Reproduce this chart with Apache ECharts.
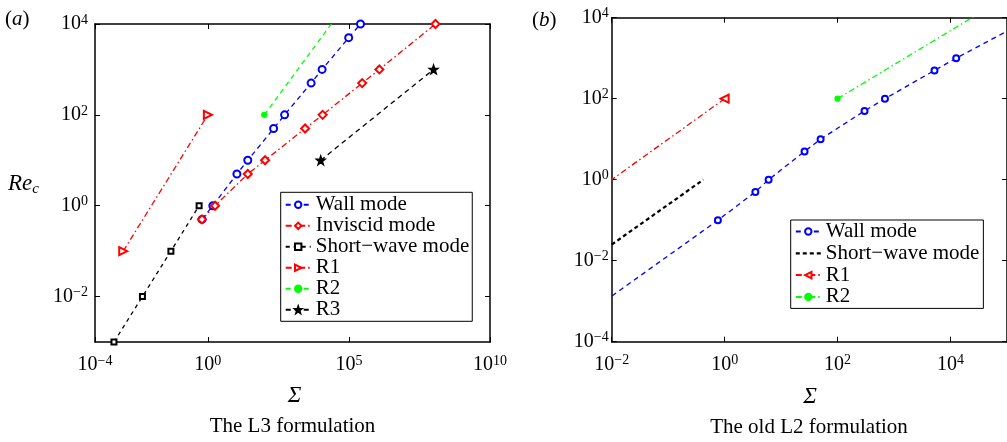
<!DOCTYPE html>
<html>
<head>
<meta charset="utf-8">
<script src="https://cdn.jsdelivr.net/npm/echarts@6/dist/echarts.min.js"></script>
<style>
  html, body { margin: 0; padding: 0; background: #fff; }
  #chart { width: 1007px; height: 442px; }
</style>
</head>
<body>
<div id="chart"></div>
<script>
// ---- Panel (a): the L3 formulation, [Sigma, Re_c] pairs ----
const wallL3 = [[0.62, 0.5], [1.5, 1], [10.7, 5], [26, 10], [214, 50], [525, 100], [4570, 500], [1.12e4, 1000], [9.8e4, 5000], [2.57e5, 1e4]];
const inviscidL3 = [[0.62, 0.5], [1.8, 1], [26, 5], [107, 10], [2.8e3, 50], [1.17e4, 100], [2.95e5, 500], [1.2e6, 1000], [1.17e8, 1e4]];
const shortWaveL3 = [[4.7e-4, 1e-3], [4.8e-3, 0.01], [0.049, 0.1], [0.49, 1]];
const r1 = [[1e-3, 0.1], [1, 100]];
const r2 = [[100, 100], [3.7e5, 1e5]];
const r3 = [[1e4, 10], [1e8, 1000]];

// ---- Panel (b): the old L2 formulation ----
const wallL2 = [[0.0075, 0.001], [0.76, 0.1], [3.5, 0.5], [6, 1], [26, 5], [50, 10], [300, 50], [690, 100], [5200, 500], [1.26e4, 1000], [1.1e5, 5000]];
const shortWaveL2 = [[0.01, 0.025], [0.42, 1]];

// ---- axis ranges and tick values ----
const rangeAX = [1e-4, 1e10];
const rangeAY = [1e-3, 1e4];
const rangeBX = [1e-2, 1e5];
const rangeBY = [1e-4, 1e4];
const ticksAX = [1e-4, 1, 1e5, 1e10];
const ticksAY = [1e-2, 1, 1e2, 1e4];
const ticksBX = [1e-2, 1, 1e2, 1e4];
const ticksBY = [1e-4, 1e-2, 1, 1e2, 1e4];

const FONT = "'Liberation Serif', 'Times New Roman', serif";
const BLUE = '#0000ff', RED = '#ff0000', GREEN = '#00ff00', BLACK = '#000000';
const DASH = [5, 4];
const DASHDOT = [6, 3, 1.5, 3];
const STAR = 'path://M0,-10 L2.35,-3.24 L9.51,-3.09 L3.8,1.24 L5.88,8.09 L0,4 L-5.88,8.09 L-3.8,1.24 L-9.51,-3.09 L-2.35,-3.24 Z';

// power-of-ten label: 10 with a raised exponent
const pow10 = v => {
  const e = Math.round(Math.log10(v));
  return '{b|10}{s|' + (e < 0 ? '\u2212' : '') + Math.abs(e) + '}';
};
const labelRich = {
  b: { fontFamily: FONT, fontSize: 20, color: '#000' },
  s: { fontFamily: FONT, fontSize: 14, color: '#000', padding: [0, 0, 8, 0] }
};

function axis(grid, range, ticks, pos, withLabels, margin) {
  return {
    type: 'log', logBase: 10, gridIndex: grid, min: range[0], max: range[1], position: pos,
    axisLine: { show: true, onZero: false, lineStyle: { color: '#000', width: 1.5 } },
    axisTick: { show: true, inside: true, length: 5, customValues: ticks, lineStyle: { color: '#000', width: 1 } },
    axisLabel: { show: withLabels, customValues: ticks, formatter: pow10, rich: labelRich, margin: margin },
    splitLine: { show: false },
    minorTick: { show: false },
    minorSplitLine: { show: false }
  };
}

function curve(name, data, panel, color, dash, width, symbol, size, extra) {
  return Object.assign({
    type: 'line', name: name, data: data,
    xAxisIndex: panel * 2, yAxisIndex: panel * 2,
    clip: true, animation: false, silent: true,
    symbol: symbol, symbolSize: size,
    lineStyle: { color: color, width: width, type: dash },
    itemStyle: { color: color, borderColor: color, borderWidth: 1.3 },
    emphasis: { disabled: true }
  }, extra || {});
}

const legendText = { fontFamily: FONT, fontSize: 21, color: '#000', lineHeight: 21 };

const option = {
  backgroundColor: '#fff',
  animation: false,
  grid: [
    { left: 95, top: 24, width: 395, height: 318 },
    { left: 611.7, top: 17.7, width: 396, height: 324 }
  ],
  xAxis: [
    axis(0, rangeAX, ticksAX, 'bottom', true, 12),
    axis(0, rangeAX, ticksAX, 'top', false, 8),
    axis(1, rangeBX, ticksBX, 'bottom', true, 12),
    axis(1, rangeBX, ticksBX, 'top', false, 8)
  ],
  yAxis: [
    axis(0, rangeAY, ticksAY, 'left', true, 7),
    axis(0, rangeAY, ticksAY, 'right', false, 7),
    axis(1, rangeBY, ticksBY, 'left', true, 3),
    axis(1, rangeBY, ticksBY, 'right', false, 3)
  ],
  legend: [
    {
      left: 280.7, top: 192.3, orient: 'vertical', selectedMode: false,
      itemWidth: 25, itemHeight: 8, itemGap: 0, padding: [2, 3, 1, 4],
      borderColor: '#000', borderWidth: 1, backgroundColor: '#fff',
      textStyle: legendText,
      data: ['Wall mode', 'Inviscid mode', 'Short\u2212wave mode', 'R1', 'R2', 'R3']
    },
    {
      left: 790.7, top: 220, orient: 'vertical', selectedMode: false,
      itemWidth: 25, itemHeight: 8, itemGap: 0.8, padding: [1, 4, 1, 4],
      borderColor: '#000', borderWidth: 1, backgroundColor: '#fff',
      textStyle: legendText,
      data: [
        { name: 'Wall mode' },
        { name: 'Short\u2212wave mode', itemStyle: { opacity: 0 }, lineStyle: { width: 2.2, type: [4, 3] } },
        { name: 'R1', symbolRotate: 90 },
        { name: 'R2', lineStyle: { type: DASHDOT } }
      ]
    }
  ],
  series: [
    curve('Wall mode', wallL3, 0, BLUE, DASH, 1.3, 'emptyCircle', 7),
    curve('Inviscid mode', inviscidL3, 0, RED, DASHDOT, 1.3, 'emptyDiamond', 8),
    curve('Short\u2212wave mode', shortWaveL3, 0, BLACK, [4, 4], 1.3, 'emptyRect', 5),
    curve('R1', r1, 0, RED, DASHDOT, 1.3, 'emptyTriangle', 8, { symbolRotate: -90 }),
    curve('R2', r2, 0, GREEN, DASH, 1.3, 'circle', 5),
    curve('R3', r3, 0, BLACK, DASH, 1.3, STAR, 9),

    curve('Wall mode', wallL2, 1, BLUE, DASH, 1.3, 'emptyCircle', 6),
    curve('Short\u2212wave mode', shortWaveL2, 1, BLACK, [4, 3], 2.2, 'none', 0),
    curve('R1', r1, 1, RED, DASHDOT, 1.3, 'emptyTriangle', 8, { symbolRotate: 90 }),
    curve('R2', r2, 1, GREEN, DASHDOT, 1.3, 'circle', 5)
  ],
  graphic: [
    { type: 'text', x: 5, y: 19, style: { text: '({i|a})', font: '21px ' + FONT, fill: '#000', verticalAlign: 'middle',
      rich: { i: { fontStyle: 'italic', fontFamily: FONT, fontSize: 21 } } } },
    { type: 'text', x: 532, y: 20, style: { text: '({i|b})', font: '21px ' + FONT, fill: '#000', verticalAlign: 'middle',
      rich: { i: { fontStyle: 'italic', fontFamily: FONT, fontSize: 21 } } } },
    { type: 'text', x: 8, y: 184, style: { text: '{r|Re}{c|c}', verticalAlign: 'middle', fill: '#000',
      rich: { r: { fontStyle: 'italic', fontFamily: FONT, fontSize: 23 },
              c: { fontStyle: 'italic', fontFamily: FONT, fontSize: 15, padding: [10, 0, 0, 0] } } } },
    { type: 'text', x: 294.5, y: 396, style: { text: '\u03a3', font: 'italic 23px ' + FONT, fill: '#000', align: 'center', verticalAlign: 'middle' } },
    { type: 'text', x: 810, y: 397, style: { text: '\u03a3', font: 'italic 23px ' + FONT, fill: '#000', align: 'center', verticalAlign: 'middle' } },
    { type: 'text', x: 292.5, y: 426, style: { text: 'The L3 formulation', font: '21px ' + FONT, fill: '#000', align: 'center', verticalAlign: 'middle' } },
    { type: 'text', x: 809, y: 427, style: { text: 'The old L2 formulation', font: '21px ' + FONT, fill: '#000', align: 'center', verticalAlign: 'middle' } }
  ]
};

const chart = echarts.init(document.getElementById('chart'), null, { renderer: 'canvas' });
chart.setOption(option);
</script>
</body>
</html>
